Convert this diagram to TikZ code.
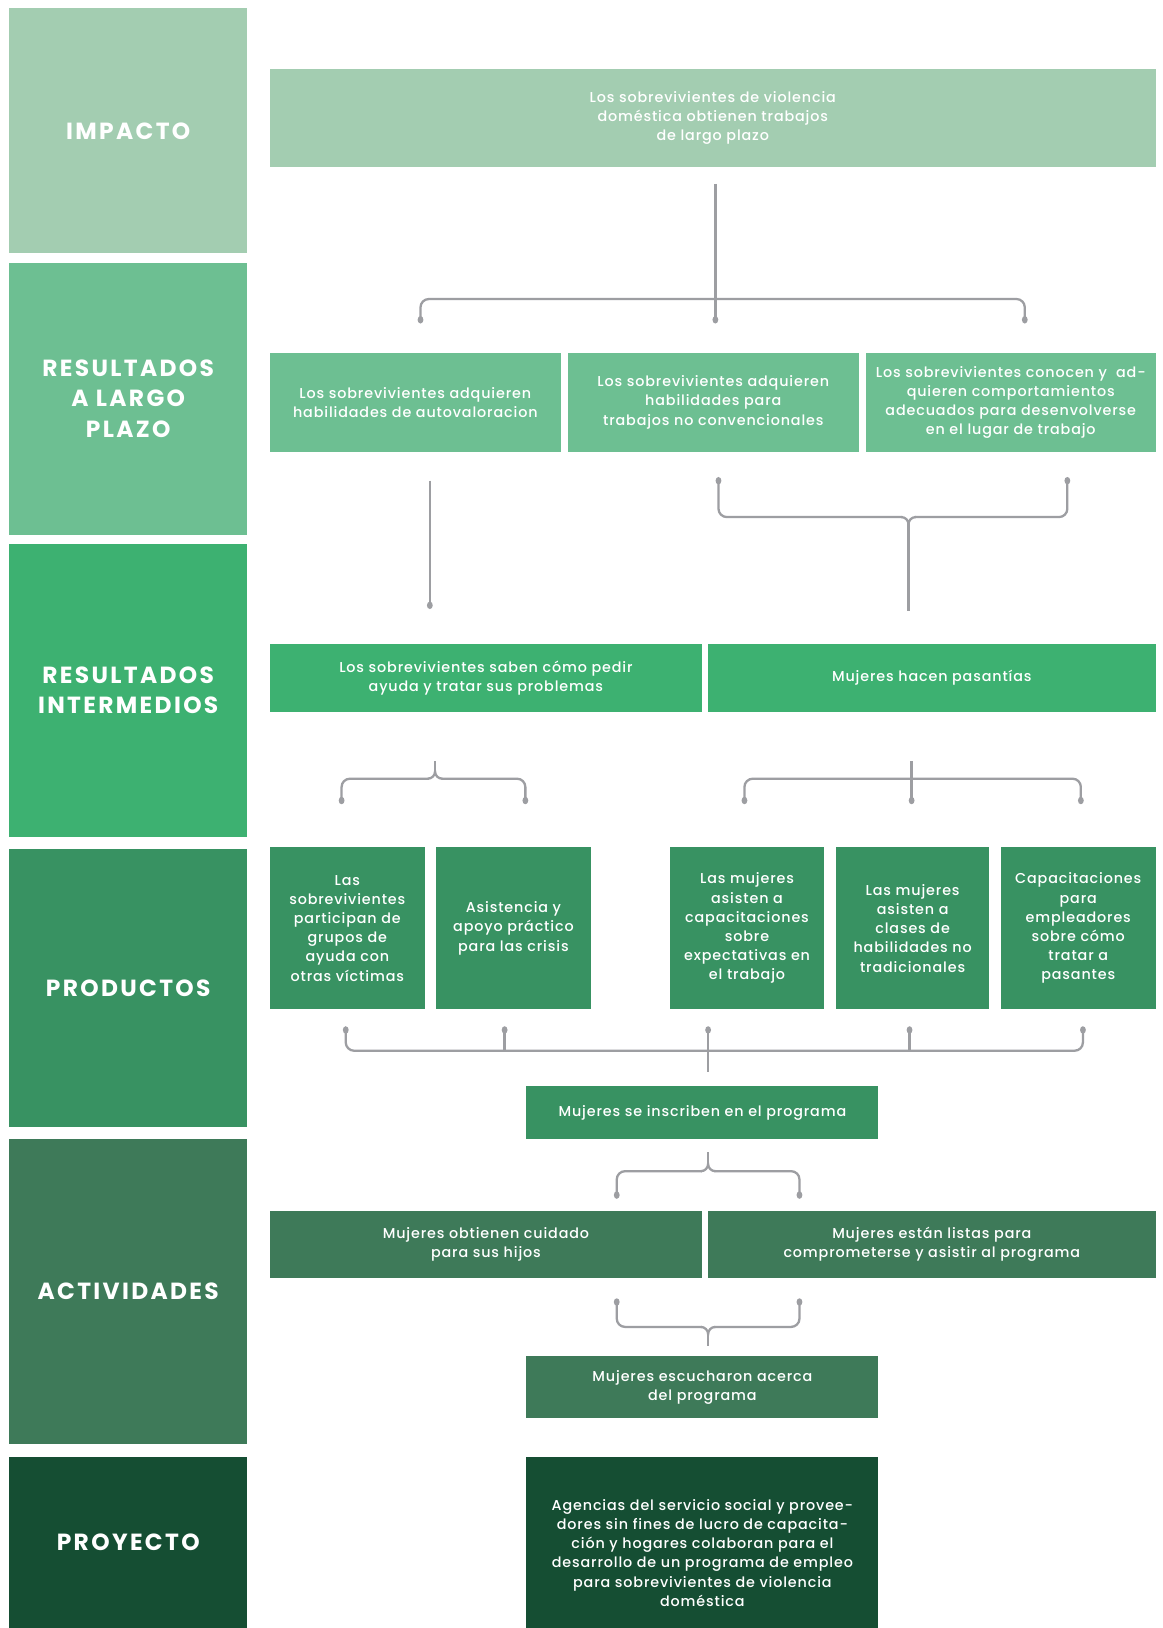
\documentclass[tikz,border=0pt]{standalone}
\usepackage{fontspec}
\setmainfont{Poppins Medium}[LetterSpace=6]
\newfontfamily\hfont{Poppins Bold}[LetterSpace=10]
\definecolor{cA}{HTML}{A3CDB1}
\definecolor{cB}{HTML}{6DBF92}
\definecolor{cC}{HTML}{3DB171}
\definecolor{cD}{HTML}{389262}
\definecolor{cE}{HTML}{3E7A59}
\definecolor{cF}{HTML}{154E33}
\definecolor{lineGray}{HTML}{9D9EA2}
\tikzset{
  box/.style={fill=#1, text=white, align=center, inner sep=0pt, font=\fontsize{13.8}{18.5}\selectfont},
  headbox/.style={fill=#1, text=white, align=center, inner sep=0pt, minimum width=229pt, font=\hfont\fontsize{22.5}{29}\selectfont},
  conn/.style={draw=lineGray, line width=2.2pt, rounded corners=8pt},
  stem/.style={draw=lineGray, line width=2.2pt},
}
\newcommand\tipdot[1]{\fill[lineGray] (#1) ellipse (2.8pt and 3.6pt);}
\begin{document}
\begin{tikzpicture}[x=1pt,y=-1pt]
\useasboundingbox[fill=white] (0,0) rectangle (1120,1568);
\begin{scope}
\clip (0,0) rectangle (1120,1568);
% left column
\node[headbox=cA, minimum height=236pt] (hImp) at (123.5,126) {IMPACTO};
\node[headbox=cB, minimum height=262pt] (hLT) at (123.5,384) {RESULTADOS\\A LARGO\\PLAZO};
\node[headbox=cC, minimum height=282pt] (hInt) at (123.5,665) {RESULTADOS\\INTERMEDIOS};
\node[headbox=cD, minimum height=267pt] (hProd) at (123.5,951.5) {PRODUCTOS};
\node[headbox=cE, minimum height=294pt] (hAct) at (123.5,1244) {ACTIVIDADES};
\node[headbox=cF, minimum height=165pt] (hProj) at (123.5,1485.5) {PROYECTO};

% boxes
\node[box=cA, minimum width=853pt, minimum height=95pt] (imp) at (686.5,113.5) {Los sobrevivientes de violencia\\doméstica obtienen trabajos\\de largo plazo};
\node[box=cB, minimum width=280pt, minimum height=95pt] (lt1) at (400,387.5) {Los sobrevivientes adquieren\\habilidades de autovaloracion};
\node[box=cB, minimum width=280pt, minimum height=95pt] (lt2) at (687,387.5) {Los sobrevivientes adquieren\\habilidades para\\trabajos no convencionales};
\node[box=cB, minimum width=279pt, minimum height=95pt] (lt3) at (973.5,387.5) {Los sobrevivientes conocen y \ ad-\\quieren comportamientos\\adecuados para desenvolverse\\en el lugar de trabajo};
\node[box=cC, minimum width=416pt, minimum height=66pt] (int1) at (468,653) {Los sobrevivientes saben cómo pedir\\ayuda y tratar sus problemas};
\node[box=cC, minimum width=431pt, minimum height=66pt] (int2) at (897.5,653) {Mujeres hacen pasantías};
\node[box=cD, minimum width=149pt, minimum height=156pt] (p1) at (334.5,894) {Las\\sobrevivientes\\participan de\\grupos de\\ayuda con\\otras víctimas};
\node[box=cD, minimum width=149pt, minimum height=156pt] (p2) at (494.5,894) {Asistencia y\\apoyo práctico\\para las crisis};
\node[box=cD, minimum width=149pt, minimum height=156pt] (p3) at (719.5,894) {Las mujeres\\asisten a\\capacitaciones\\sobre\\expectativas en\\el trabajo};
\node[box=cD, minimum width=148pt, minimum height=156pt] (p4) at (879,894) {Las mujeres\\asisten a\\clases de\\habilidades no\\tradicionales};
\node[box=cD, minimum width=149pt, minimum height=156pt] (p5) at (1038.5,894) {Capacitaciones\\para\\empleadores\\sobre cómo\\tratar a\\pasantes};
\node[box=cD, minimum width=339pt, minimum height=51pt] (ins) at (676.5,1071.5) {Mujeres se inscriben en el programa};
\node[box=cE, minimum width=416pt, minimum height=65pt] (a1) at (468,1198.5) {Mujeres obtienen cuidado\\para sus hijos};
\node[box=cE, minimum width=431pt, minimum height=65pt] (a2) at (897.5,1198.5) {Mujeres están listas para\\comprometerse y asistir al programa};
\node[box=cE, minimum width=339pt, minimum height=60pt] (esc) at (676.5,1336) {Mujeres escucharon acerca\\del programa};
\node[box=cF, minimum width=339pt, minimum height=185pt] (proj) at (676.5,1495.5) {Agencias del servicio social y provee-\\dores sin fines de lucro de capacita-\\ción y hogares colaboran para el\\desarrollo de un programa de empleo\\para sobrevivientes de violencia\\doméstica};
\end{scope}

% ---- connectors ----
\coordinate (c1t) at (689,177);
\coordinate (c1m) at (689,308);
\coordinate (c1l) at (405,308);
\coordinate (c1r) at (987,308);
\draw[stem] (c1t) -- (c1m);
\draw[conn] (c1l) -- (405,288) -- (987,288) -- (c1r);
\tipdot{c1l}\tipdot{c1m}\tipdot{c1r}

\coordinate (c2a) at (414,463);
\coordinate (c2b) at (414,583);
\draw[stem] (c2a) -- (c2b);
\tipdot{c2b}
\coordinate (c2l) at (692,463);
\coordinate (c2r) at (1028,463);
\coordinate (c2s) at (875,588);
\draw[conn] (c2l) -- (692,498) -- (869,498);
\draw[stem] (868,498) to[out=0,in=90] (875,505) to[out=90,in=180] (882,498);
\draw[conn] (881,498) -- (1028,498) -- (c2r);
\draw[stem] (875,504) -- (c2s);
\tipdot{c2l}\tipdot{c2r}

\coordinate (c3t) at (419,733);
\coordinate (c3l) at (329,771);
\coordinate (c3r) at (506,771);
\draw[stem] (c3t) -- (419,744);
\draw[conn] (c3l) -- (329,750) -- (413,750);
\draw[stem] (412,750) to[out=0,in=-90] (419,743) to[out=-90,in=180] (426,750);
\draw[conn] (425,750) -- (506,750) -- (c3r);
\tipdot{c3l}\tipdot{c3r}

\coordinate (c4t) at (878,733);
\coordinate (c4m) at (878,771);
\coordinate (c4l) at (717,771);
\coordinate (c4r) at (1041,771);
\draw[stem] (c4t) -- (c4m);
\draw[conn] (c4l) -- (717,750) -- (1041,750) -- (c4r);
\tipdot{c4l}\tipdot{c4m}\tipdot{c4r}

\coordinate (c5a) at (333,992);
\coordinate (c5b) at (486,992);
\coordinate (c5c) at (682,992);
\coordinate (c5d) at (876,992);
\coordinate (c5e) at (1043,992);
\coordinate (c5s) at (682,1032);
\draw[conn] (c5a) -- (333,1012) -- (1043,1012) -- (c5e);
\draw[stem] (c5b) -- (486,1012);
\draw[stem] (c5c) -- (c5s);
\draw[stem] (c5d) -- (876,1012);
\tipdot{c5a}\tipdot{c5b}\tipdot{c5c}\tipdot{c5d}\tipdot{c5e}

\coordinate (c6t) at (682,1110);
\coordinate (c6l) at (594,1151);
\coordinate (c6r) at (770,1151);
\draw[stem] (c6t) -- (682,1122);
\draw[conn] (c6l) -- (594,1128) -- (676,1128);
\draw[stem] (675,1128) to[out=0,in=-90] (682,1121) to[out=-90,in=180] (689,1128);
\draw[conn] (688,1128) -- (770,1128) -- (c6r);
\tipdot{c6l}\tipdot{c6r}

\coordinate (c7l) at (594,1254);
\coordinate (c7r) at (770,1254);
\coordinate (c7s) at (682,1296);
\draw[conn] (c7l) -- (594,1278) -- (676,1278);
\draw[stem] (675,1278) to[out=0,in=90] (682,1285) to[out=90,in=180] (689,1278);
\draw[conn] (688,1278) -- (770,1278) -- (c7r);
\draw[stem] (682,1284) -- (c7s);
\tipdot{c7l}\tipdot{c7r}
\end{tikzpicture}
\end{document}
